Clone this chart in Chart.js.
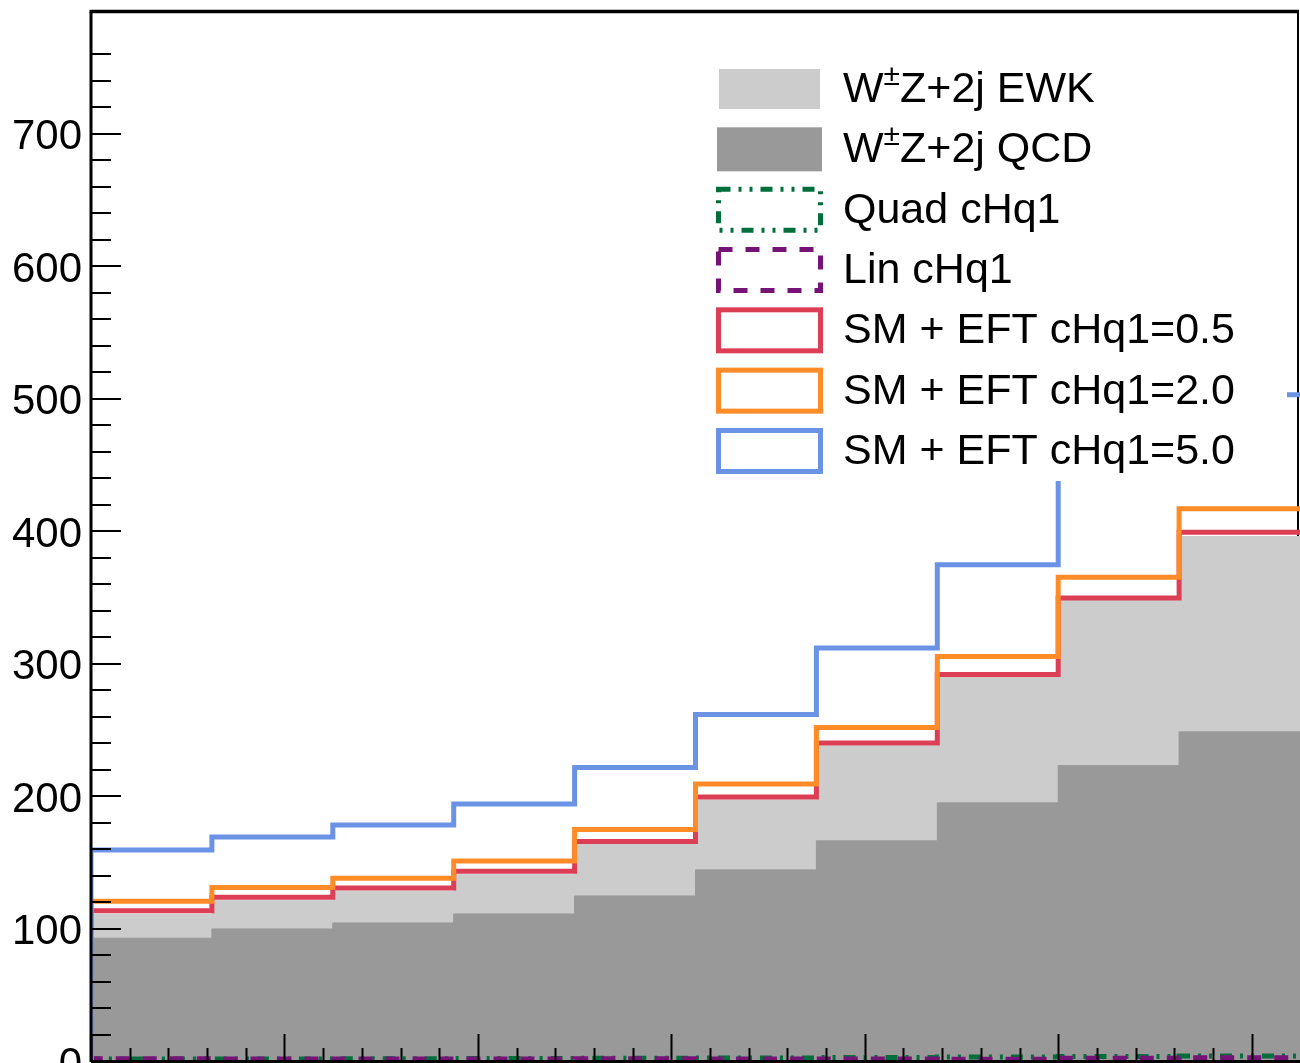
<!DOCTYPE html>
<html>
<head>
<meta charset="utf-8">
<script src="https://cdn.jsdelivr.net/npm/chart.js@4.4.1/dist/chart.umd.min.js"></script>
<style>
  html, body { margin: 0; padding: 0; background: #fff; overflow: hidden; }
  canvas { display: block; }
</style>
</head>
<body>
<canvas id="histChart" width="1300" height="1063"></canvas>
<script>
// bin edges (x units), 10 bins
const binEdges = [0, 125, 250, 375, 500, 625, 750, 875, 1000, 1125, 1250];

// stacked SM backgrounds
const qcdValues = [92.7, 99.7, 104.2, 111.0, 124.6, 144.3, 166.2, 194.9, 223.0, 248.5];
const ewkValues = [18.1, 21.7, 24.0, 29.7, 38.9, 52.8, 71.7, 95.4, 124.7, 147.5];

// EFT components (sit near zero)
const quadValues = [1.6, 1.6, 1.7, 1.8, 2.0, 2.3, 2.6, 3.1, 3.4, 3.8];
const linValues = [1.7, 1.5, 1.5, 1.5, 1.7, 1.5, 1.6, 1.4, 2.0, 2.4];

// SM + EFT totals
const eft05Values = [113.5, 123.6, 130.7, 143.3, 165.8, 199.4, 240.0, 291.8, 349.5, 399.3];
const eft20Values = [120.6, 130.9, 138.0, 151.0, 174.7, 209.2, 251.7, 305.4, 365.3, 416.9];
const eft50Values = [159.4, 169.2, 178.2, 194.1, 221.5, 261.6, 311.9, 374.6, 445.0, 503.0];

const yMax = 792;
const fontFamily = '"Liberation Sans", Arial, Helvetica, sans-serif';

// histogram outline: start from zero at the left edge, one point per bin, close at right edge
function stepPoints(values) {
    const pts = [{ x: binEdges[0], y: 0 }];
    values.forEach((v, i) => pts.push({ x: binEdges[i], y: v }));
    pts.push({ x: binEdges[binEdges.length - 1], y: values[values.length - 1] });
    return pts;
}

const ewkStack = qcdValues.map((v, i) => v + ewkValues[i]);

const datasets = [
    { label: 'SM + EFT cHq1=5.0', data: stepPoints(eft50Values), borderColor: '#6a93e6', borderWidth: 5, fill: false },
    { label: 'SM + EFT cHq1=2.0', data: stepPoints(eft20Values), borderColor: '#ff8c28', borderWidth: 5, fill: false },
    { label: 'SM + EFT cHq1=0.5', data: stepPoints(eft05Values), borderColor: '#dc3f55', borderWidth: 5, fill: false },
    { label: 'Lin cHq1', data: stepPoints(linValues), borderColor: '#751476', borderWidth: 5, borderDash: [14, 13], fill: false },
    { label: 'Quad cHq1', data: stepPoints(quadValues), borderColor: '#006f3c', borderWidth: 5, borderDash: [12, 8, 3, 8, 3, 8], fill: false },
    { label: 'W\u00b1Z+2j QCD', data: stepPoints(qcdValues), borderColor: '#999999', backgroundColor: '#999999', borderWidth: 1, fill: 'origin' },
    { label: 'W\u00b1Z+2j EWK', data: stepPoints(ewkStack), borderColor: '#cccccc', backgroundColor: '#cccccc', borderWidth: 1, fill: 'origin' }
];

// frame line on the right sits under the histograms
const framePlugin = {
    id: 'frameUnder',
    beforeDatasetsDraw(chart) {
        const ctx = chart.ctx;
        const a = chart.chartArea;
        ctx.save();
        ctx.strokeStyle = '#000';
        ctx.lineWidth = 2;
        ctx.beginPath();
        ctx.moveTo(a.right - 2, a.top);
        ctx.lineTo(a.right - 2, a.bottom);
        ctx.stroke();
        ctx.restore();
    }
};

// ROOT-like legend box with white fill, drawn over the histograms
const legendPlugin = {
    id: 'rootLegend',
    afterDatasetsDraw(chart) {
        const ctx = chart.ctx;
        const rows = [6, 5, 4, 3, 2, 1, 0];
        ctx.save();
        ctx.fillStyle = '#fff';
        ctx.fillRect(700, 40, 587, 441);
        rows.forEach((di, r) => {
            const ds = chart.data.datasets[di];
            const cy = 89 + r * 60.33;
            if (ds.fill) {
                ctx.fillStyle = ds.backgroundColor;
                if (r === 0) ctx.fillRect(719, cy - 20, 101, 40);
                else ctx.fillRect(717, cy - 22, 105, 44);
            } else {
                ctx.strokeStyle = ds.borderColor;
                ctx.lineWidth = ds.borderWidth;
                ctx.setLineDash(ds.borderDash || []);
                ctx.strokeRect(718.5, cy - 20.5, 102, 41);
                ctx.setLineDash([]);
            }
            ctx.fillStyle = '#000';
            ctx.textBaseline = 'alphabetic';
            ctx.textAlign = 'left';
            const base = cy + 13;
            const parts = ds.label.split('\u00b1');
            if (parts.length === 2) {
                ctx.font = '43px ' + fontFamily;
                ctx.fillText(parts[0], 843, base);
                let x = 843 + ctx.measureText(parts[0]).width;
                ctx.font = '30px ' + fontFamily;
                ctx.fillText('\u00b1', x, base - 17);
                x += ctx.measureText('\u00b1').width;
                ctx.font = '43px ' + fontFamily;
                ctx.fillText(parts[1], x, base);
            } else {
                ctx.font = '43px ' + fontFamily;
                ctx.fillText(ds.label, 843, base);
            }
        });
        ctx.restore();
    }
};

// axes and inside tick marks, drawn last
const axesPlugin = {
    id: 'rootAxes',
    afterDraw(chart) {
        const ctx = chart.ctx;
        const a = chart.chartArea;
        const xs = chart.scales.x;
        const ys = chart.scales.y;
        ctx.save();
        ctx.strokeStyle = '#000';
        ctx.lineWidth = 2;
        ctx.beginPath();
        ys.ticks.forEach(t => {
            if (t.value % 20 !== 0) return;
            const y = Math.round(ys.getPixelForValue(t.value));
            const len = t.value % 100 === 0 ? 30 : 20;
            ctx.moveTo(a.left, y);
            ctx.lineTo(a.left + len, y);
        });
        xs.ticks.forEach(t => {
            if (t.value % 40 !== 0) return;
            const x = Math.round(xs.getPixelForValue(t.value)) + 0.5;
            const len = t.value % 200 === 0 ? 27 : 13;
            ctx.moveTo(x, a.bottom);
            ctx.lineTo(x, a.bottom - len);
        });
        ctx.stroke();
        ctx.lineWidth = 3;
        ctx.beginPath();
        ctx.moveTo(a.left, a.bottom + 1);
        ctx.lineTo(a.left, a.top);
        ctx.moveTo(a.left, a.bottom + 0.5);
        ctx.lineTo(a.right, a.bottom + 0.5);
        ctx.stroke();
        ctx.lineWidth = 3.5;
        ctx.beginPath();
        ctx.moveTo(a.left - 1.5, a.top - 0.5);
        ctx.lineTo(a.right - 1, a.top - 0.5);
        ctx.stroke();
        ctx.restore();
    }
};

const chart = new Chart(document.getElementById('histChart'), {
    type: 'line',
    data: { datasets: datasets },
    options: {
        responsive: false,
        animation: false,
        devicePixelRatio: 1,
        events: [],
        layout: { padding: { top: 12, right: 0, bottom: 0, left: 0 } },
        elements: {
            point: { radius: 0 },
            line: { stepped: true, tension: 0, borderCapStyle: 'butt', borderJoinStyle: 'miter' }
        },
        plugins: {
            legend: { display: false },
            tooltip: { enabled: false },
            title: { display: false }
        },
        scales: {
            x: {
                type: 'linear',
                min: binEdges[0],
                max: binEdges[binEdges.length - 1],
                border: { display: false },
                grid: { display: false, drawTicks: false },
                ticks: { display: false, stepSize: 40 },
                afterFit(scale) {
                    scale.height = 2;
                    scale.paddingLeft = 0;
                    scale.paddingRight = 0;
                }
            },
            y: {
                min: 0,
                max: yMax,
                border: { display: false },
                grid: { display: false, drawTicks: false },
                ticks: {
                    stepSize: 20,
                    autoSkip: false,
                    padding: 9,
                    labelOffset: 4,
                    color: '#000',
                    font: { family: fontFamily, size: 42 },
                    callback: v => (v % 100 === 0 ? String(v) : '')
                },
                afterFit(scale) {
                    scale.width = 91;
                    scale.paddingTop = 0;
                    scale.paddingBottom = 0;
                }
            }
        }
    },
    plugins: [framePlugin, legendPlugin, axesPlugin]
});
</script>
</body>
</html>
